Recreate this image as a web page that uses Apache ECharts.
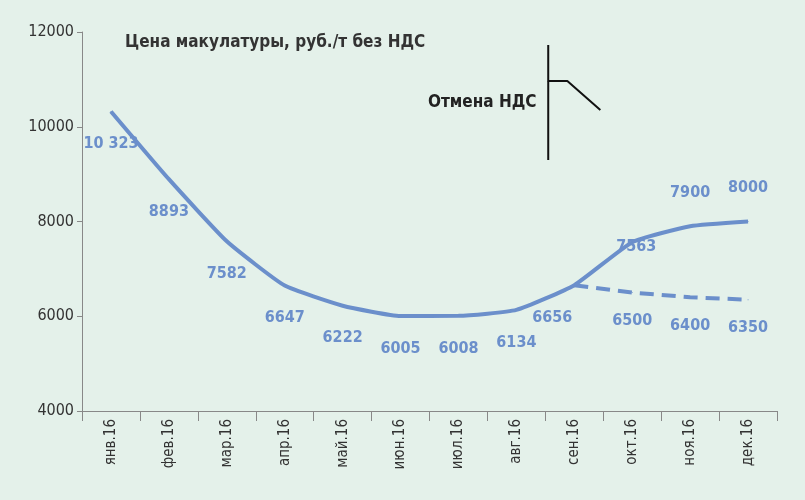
<!DOCTYPE html>
<html><head><meta charset="utf-8">
<script src="https://cdn.jsdelivr.net/npm/echarts@6/dist/echarts.min.js"></script>
<style>html,body{margin:0;padding:0;background:#e4f1ea}#c{width:805px;height:500px}</style>
</head><body><div id="c"></div>
<script>
const categories=['янв.16','фев.16','мар.16','апр.16','май.16','июн.16','июл.16','авг.16','сен.16','окт.16','ноя.16','дек.16'];
const actual=[10323,8893,7582,6647,6222,6005,6008,6134,6656,7563,7900,8000];
const noVat=[null,null,null,null,null,null,null,null,6656,6500,6400,6350];
const labelsActual=['10 323','8893','7582','6647','6222','6005','6008','6134','6656','7563','7900','8000'];
const bracket=[[8.05,11726],[8.05,10966],[8.38,10966],[8.95,10354]];
const bracketStem=[[8.05,10966],[8.05,9298]];
const vatLine=9;
const F='"Liberation Sans Narrow","DejaVu Sans Condensed",sans-serif';
const blue='#6b8fcb';
const chart=echarts.init(document.getElementById('c'));
chart.setOption({
 backgroundColor:'#e4f1ea',
 animation:false,
 grid:{left:82,right:28,top:32,bottom:89},
 xAxis:[{type:'category',data:categories,boundaryGap:true,
   axisLine:{lineStyle:{color:'#888'}},axisTick:{show:true,length:10,lineStyle:{color:'#888'}},
   axisLabel:{rotate:90,fontFamily:F,fontSize:15,color:'#333',margin:8}},
  {type:'value',min:0,max:12,show:false}],
 yAxis:{type:'value',min:4000,max:12000,interval:2000,
   axisLine:{show:true,lineStyle:{color:'#888'}},axisTick:{show:true,lineStyle:{color:'#888'}},
   splitLine:{show:false},axisLabel:{fontFamily:F,fontSize:16,color:'#333',formatter:v=>String(v)}},
 graphic:[{type:'text',left:125,top:34,style:{text:'Цена макулатуры, руб./т без НДС',font:'bold 17px '+F,fill:'#333'}},
  {type:'text',left:428,top:94,style:{text:'Отмена НДС',font:'bold 17px '+F,fill:'#222'}}],
 series:[
  {type:'line',data:actual,symbol:'circle',symbolSize:1,showSymbol:true,itemStyle:{color:blue},smooth:0.15,lineStyle:{color:blue,width:4},z:3,
   label:{show:true,position:'bottom',distance:24,fontFamily:F,fontWeight:'bold',fontSize:16,color:blue,
     formatter:p=>labelsActual[p.dataIndex]},
   labelLayout:function(p){const i=p.dataIndex;if(i===8)return{dx:-22};if(i===9)return{dx:4,dy:-28};if(i>=10)return{dy:-66};return{};}},
  {type:'line',data:noVat,symbol:'circle',symbolSize:1,showSymbol:true,itemStyle:{color:blue},lineStyle:{color:blue,width:4,type:[14,8]},z:2,
   label:{show:true,position:'bottom',distance:20,fontFamily:F,fontWeight:'bold',fontSize:16,color:blue,
     formatter:p=>p.dataIndex===8?'':String(p.value)}},
  {type:'line',xAxisIndex:1,data:bracket,symbol:'none',lineStyle:{color:'#111',width:2},z:4,
   markLine:{symbol:'none',silent:true,label:{show:false},
     lineStyle:{color:'#b0202a',width:4,type:[6,4]},
     data:[[{coord:[vatLine,12000]},{coord:[vatLine,3700]}]]}},
  {type:'line',xAxisIndex:1,data:bracketStem,symbol:'none',lineStyle:{color:'#111',width:2},z:4}
 ]});
</script></body></html>
